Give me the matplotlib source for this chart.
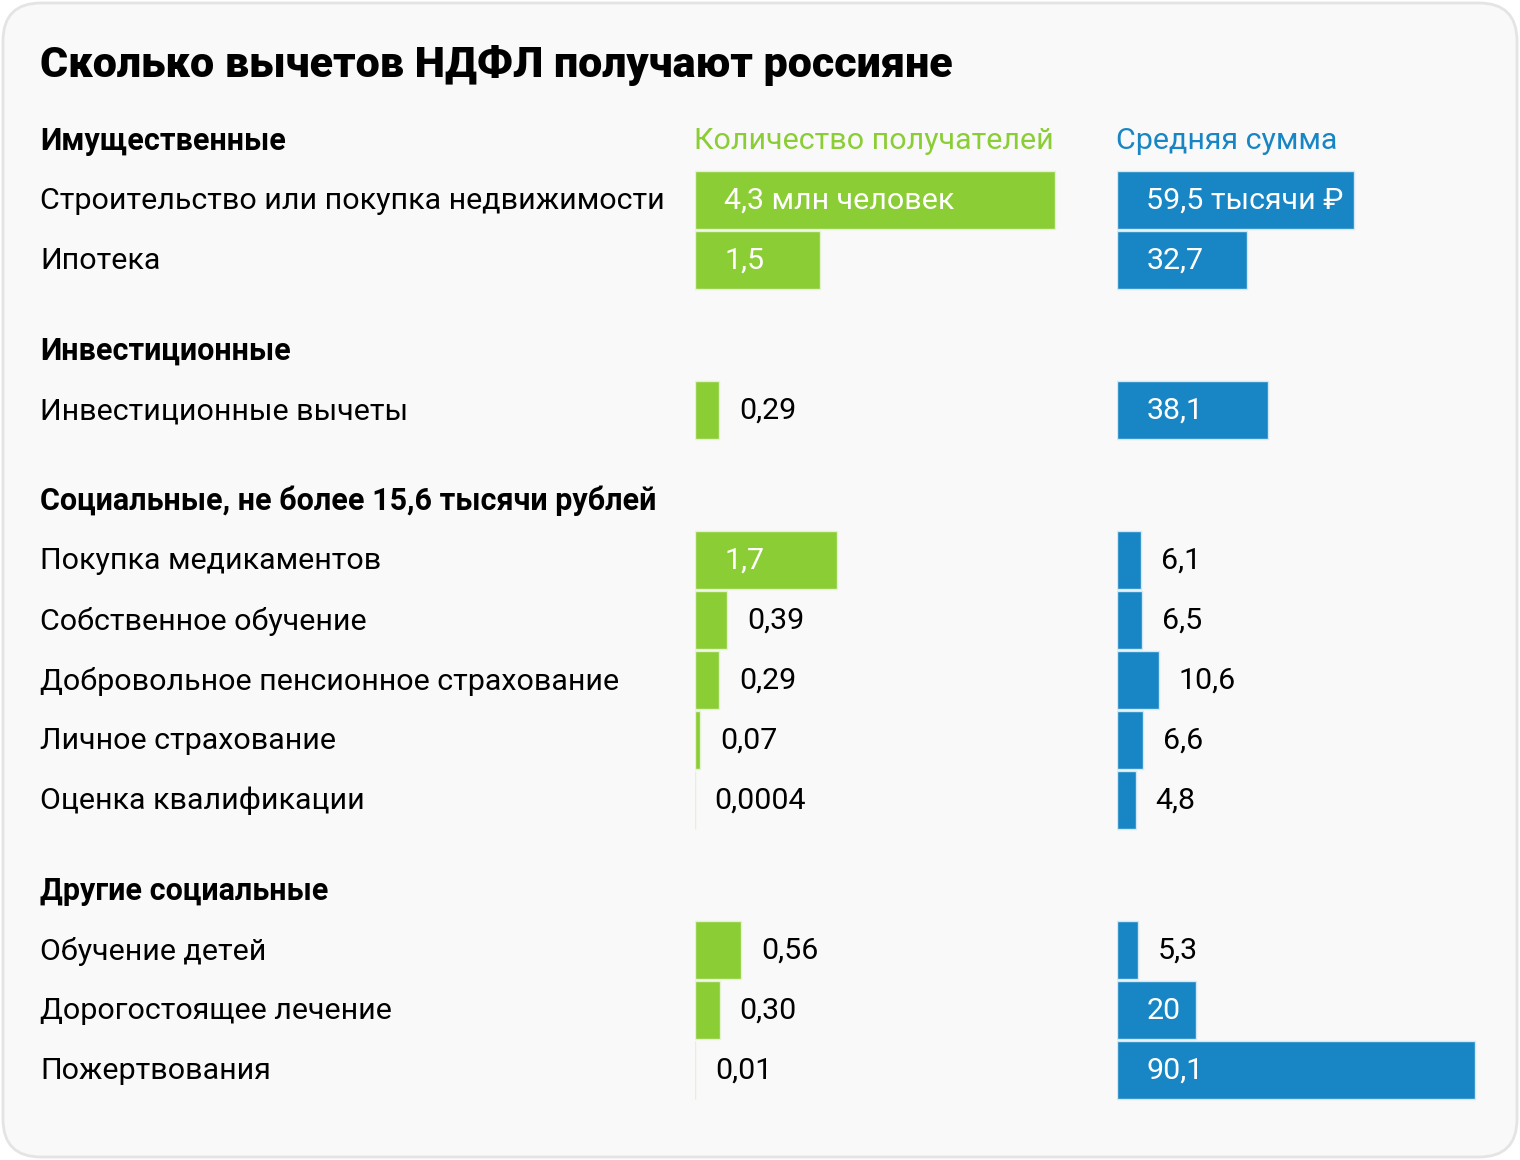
import matplotlib.pyplot as plt
from matplotlib.patches import FancyBboxPatch

plt.rcParams["font.family"] = ["Roboto", "DejaVu Sans"]

TITLE = "Сколько вычетов НДФЛ получают россияне"
SECTIONS = [
    "Имущественные",
    "Инвестиционные",
    "Социальные, не более 15,6 тысячи рублей",
    "Другие социальные",
]
CATEGORIES = [
    "Строительство или покупка недвижимости",
    "Ипотека",
    "Инвестиционные вычеты",
    "Покупка медикаментов",
    "Собственное обучение",
    "Добровольное пенсионное страхование",
    "Личное страхование",
    "Оценка квалификации",
    "Обучение детей",
    "Дорогостоящее лечение",
    "Пожертвования",
]
SECTION_OF = [0, 0, 1, 2, 2, 2, 2, 2, 3, 3, 3]
RECIPIENTS = [4.3, 1.5, 0.29, 1.7, 0.39, 0.29, 0.07, 0.0004, 0.56, 0.30, 0.01]
RECIPIENT_LABELS = ["4,3 млн человек", "1,5", "0,29", "1,7", "0,39", "0,29",
                    "0,07", "0,0004", "0,56", "0,30", "0,01"]
AVG_SUM = [59.5, 32.7, 38.1, 6.1, 6.5, 10.6, 6.6, 4.8, 5.3, 20, 90.1]
AVG_SUM_LABELS = ["59,5 тысячи ₽", "32,7", "38,1", "6,1", "6,5", "10,6",
                  "6,6", "4,8", "5,3", "20", "90,1"]

GREEN = "#8bcd34"
BLUE = "#1886c4"
W, H = 1520, 1160
FS = 21.9

# row layout in pixels from the top
row_y, header_y = [], []
y = 80
prev = None
for sec in SECTION_OF:
    if sec != prev:
        y += 60 if prev is None else 90
        header_y.append(y)
        prev = sec
    y += 60
    row_y.append(y)

fig = plt.figure(figsize=(W / 100, H / 100), dpi=100, facecolor="white")

bg = fig.add_axes([0, 0, 1, 1])
bg.set_xlim(0, W)
bg.set_ylim(H, 0)
bg.axis("off")
bg.add_patch(FancyBboxPatch((3, 3), W - 6, H - 6,
                            boxstyle="round,pad=0,rounding_size=38",
                            facecolor="#f9f9f9", edgecolor="#e4e4e4", lw=2))

bg.text(40, 66, TITLE, fontsize=31, fontweight="black", va="center", ha="left")
for name, hy in zip(SECTIONS, header_y):
    bg.text(40, hy + 1, name, fontsize=22, fontweight="bold", va="center")
for name, ry in zip(CATEGORIES, row_y):
    bg.text(40, ry + 1, name, fontsize=FS, va="center")


def panel(left, width, px_per_unit, values, labels, color, edge, header):
    ax = fig.add_axes([left / W, 0, width / W, 1])
    ax.set_xlim(0, width / px_per_unit)
    ax.set_ylim(H, 0)
    ax.axis("off")
    ax.barh(row_y, values, height=58, left=0, color=color,
            edgecolor=edge, linewidth=1)
    ax.text(0, header_y[0] + 1, header, color=color, fontsize=FS, va="center")
    for v, lab, ry in zip(values, labels, row_y):
        inside = v * px_per_unit > 60
        if inside:
            ax.annotate(lab, (0, ry + 1), xytext=(30, 0), textcoords="offset pixels",
                        color="white", fontsize=FS, va="center")
        else:
            ax.annotate(lab, (v, ry + 1), xytext=(20, 0), textcoords="offset pixels",
                        color="black", fontsize=FS, va="center")
    return ax


panel(694.5, 400, 360 / 4.3, RECIPIENTS, RECIPIENT_LABELS, GREEN, "#e3f2cf",
      "Количество получателей")
panel(1116.5, 380, 237 / 59.5, AVG_SUM, AVG_SUM_LABELS, BLUE, "#d3e7f4",
      "Средняя сумма")

fig.savefig("out.png", dpi=100, facecolor="white")
